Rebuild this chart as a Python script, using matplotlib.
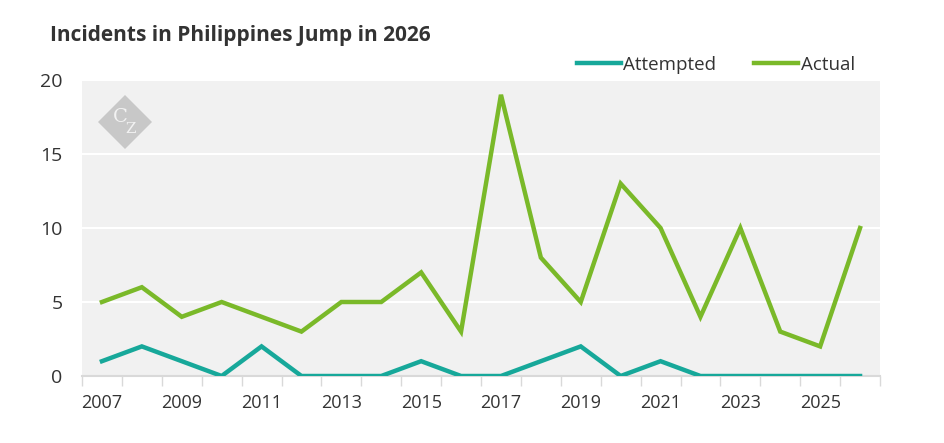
import matplotlib
matplotlib.use("Agg")
import matplotlib.pyplot as plt
from matplotlib.patches import Polygon
import numpy as np

plt.rcParams["font.family"] = ["Open Sans", "DejaVu Sans"]

years = list(range(2007, 2027))
attempted = [1, 2, 1, 0, 2, 0, 0, 0, 1, 0, 0, 1, 2, 0, 1, 0, 0, 0, 0, 0]
actual = [5, 6, 4, 5, 4, 3, 5, 5, 7, 3, 19, 8, 5, 13, 10, 4, 10, 3, 2, 10]

TEAL = "#17a89a"
GREEN = "#7ab929"
TEXT = "#333333"

W, H = 945, 443
fig = plt.figure(figsize=(W / 100, H / 100), dpi=100)
ax = fig.add_axes([82 / W, 67 / H, (880 - 82) / W, (376 - 80) / H])
ax.set_facecolor("#f1f1f1")

x = np.arange(len(years))
ax.plot(x, attempted, color=TEAL, lw=3.2, label="Attempted", solid_joinstyle="miter", zorder=3)
ax.plot(x, actual, color=GREEN, lw=3.2, label="Actual", solid_joinstyle="miter", zorder=3)

ax.set_xlim(-0.5, len(years) - 0.5)
ax.set_ylim(0, 20)
ax.set_yticks([0, 5, 10, 15, 20])
ax.grid(axis="y", color="white", lw=1.5)
ax.set_axisbelow(True)
for s in ["top", "right", "left"]:
    ax.spines[s].set_visible(False)
ax.spines["bottom"].set_color("#d9d9d9")
ax.spines["bottom"].set_linewidth(1.5)

# tick marks on category boundaries, labels on every other year
ax.set_xticks(np.arange(-0.5, len(years)), minor=False)
ax.set_xticklabels([])
ax.tick_params(axis="x", length=7, color="#d9d9d9", width=1)
ax.set_xticks(x[::2], minor=True)
ax.set_xticklabels([str(y) for y in years[::2]], minor=True)
ax.tick_params(axis="x", which="minor", length=0, pad=13, labelsize=13, labelcolor=TEXT)
ax.tick_params(axis="y", length=0, pad=14, labelsize=14, labelcolor=TEXT)

fig.text(50 / W, 1 - 35 / H, "Incidents in Philippines Jump in 2026", fontsize=15,
         fontweight="bold", color=TEXT, va="center", ha="left")

ax.legend(loc="center right", bbox_to_anchor=(855 / W, 1 - 65 / H),
          bbox_transform=fig.transFigure, ncol=2, frameon=False,
          fontsize=13.5, handlelength=2.35, columnspacing=2.0, handletextpad=0.15,
          labelcolor=TEXT, borderaxespad=0, borderpad=0)

# watermark logo
cx, cy, r = 125 / W, 1 - 122 / H, 27
diamond = Polygon([(cx - r / W, cy), (cx, cy + r / H), (cx + r / W, cy), (cx, cy - r / H)],
                  closed=True, transform=fig.transFigure, facecolor="#c8c8c8",
                  edgecolor="none", zorder=5)
fig.patches.append(diamond)
fig.text(cx - 5 / W, cy + 5 / H, "C", fontsize=14, family="DejaVu Serif", color="#f2f2f2",
         ha="center", va="center", zorder=6)
fig.text(cx + 6 / W, cy - 7 / H, "Z", fontsize=11, family="DejaVu Serif", color="#f2f2f2",
         ha="center", va="center", zorder=6)

fig.savefig("out.png", dpi=100)
